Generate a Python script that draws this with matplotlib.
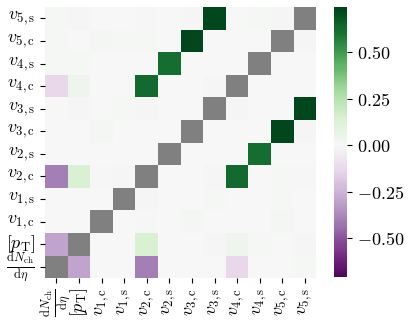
import matplotlib
matplotlib.use("Agg")
import matplotlib.pyplot as plt
from matplotlib.colors import ListedColormap
from matplotlib.ticker import FuncFormatter
import numpy as np
import seaborn as sns

plt.rcParams["mathtext.fontset"] = "cm"

labels = [r"$\frac{\mathrm{d}N_\mathrm{ch}}{\mathrm{d}\eta}$", r"$[p_\mathrm{T}]$",
          r"$v_{1,\mathrm{c}}$", r"$v_{1,\mathrm{s}}$",
          r"$v_{2,\mathrm{c}}$", r"$v_{2,\mathrm{s}}$",
          r"$v_{3,\mathrm{c}}$", r"$v_{3,\mathrm{s}}$",
          r"$v_{4,\mathrm{c}}$", r"$v_{4,\mathrm{s}}$",
          r"$v_{5,\mathrm{c}}$", r"$v_{5,\mathrm{s}}$"]

# correlation matrix, rows/cols in label order (diagonal drawn grey)
corr = [
    [1.0, -0.30, 0.00, 0.00, -0.40, 0.00, 0.00, 0.00, -0.13, 0.00, 0.00, 0.005],
    [-0.30, 1.0, 0.00, 0.00, 0.15, 0.00, 0.00, -0.01, 0.04, 0.005, 0.00, -0.01],
    [0.00, 0.00, 1.0, 0.00, -0.005, 0.00, 0.02, 0.00, 0.00, 0.00, 0.02, 0.00],
    [0.00, 0.00, 0.00, 1.0, -0.01, 0.00, 0.00, 0.01, 0.00, 0.00, 0.01, 0.00],
    [-0.40, 0.15, -0.005, -0.01, 1.0, 0.00, 0.00, -0.01, 0.63, 0.00, 0.005, -0.005],
    [0.00, 0.00, 0.00, 0.00, 0.00, 1.0, 0.00, 0.00, 0.00, 0.62, 0.00, 0.00],
    [0.00, 0.00, 0.02, 0.00, 0.00, 0.00, 1.0, 0.00, 0.00, 0.00, 0.73, -0.01],
    [0.00, -0.01, 0.00, 0.01, -0.01, 0.00, 0.00, 1.0, -0.01, 0.00, 0.00, 0.73],
    [-0.13, 0.04, 0.00, 0.00, 0.63, 0.00, 0.00, -0.01, 1.0, 0.00, 0.00, 0.00],
    [0.005, 0.005, 0.00, 0.00, 0.00, 0.62, 0.00, 0.00, 0.00, 1.0, 0.00, 0.00],
    [0.01, 0.00, 0.02, 0.01, 0.005, 0.00, 0.73, 0.00, 0.00, 0.00, 1.0, -0.01],
    [0.01, -0.01, 0.00, 0.00, -0.005, 0.00, -0.01, 0.73, 0.00, 0.005, -0.01, 1.0],
]
vmin, vmax = -0.71, 0.742

data = np.array(corr)
diag = np.eye(len(labels), dtype=bool)

fig = plt.figure(figsize=(4.11, 3.23), dpi=100)
ax = fig.add_axes([0.1095, 0.139, 0.66, 0.839])
cax = fig.add_axes([0.8127, 0.142, 0.0316, 0.835])

sns.heatmap(data, mask=diag, cmap="PRGn", center=0, vmin=vmin, vmax=vmax,
            ax=ax, cbar_ax=cax, xticklabels=labels, yticklabels=labels)
sns.heatmap(data, mask=~diag, cmap=ListedColormap(["grey"]), cbar=False, ax=ax,
            xticklabels=labels, yticklabels=labels)
ax.invert_yaxis()
ax.tick_params(axis="x", labelsize=13, rotation=90)
ax.tick_params(axis="y", labelsize=13, rotation=0)

cax.yaxis.set_major_formatter(FuncFormatter(lambda x, p: f"${x:.2f}$"))
cax.tick_params(labelsize=13)

fig.savefig("out.png", dpi=100)
